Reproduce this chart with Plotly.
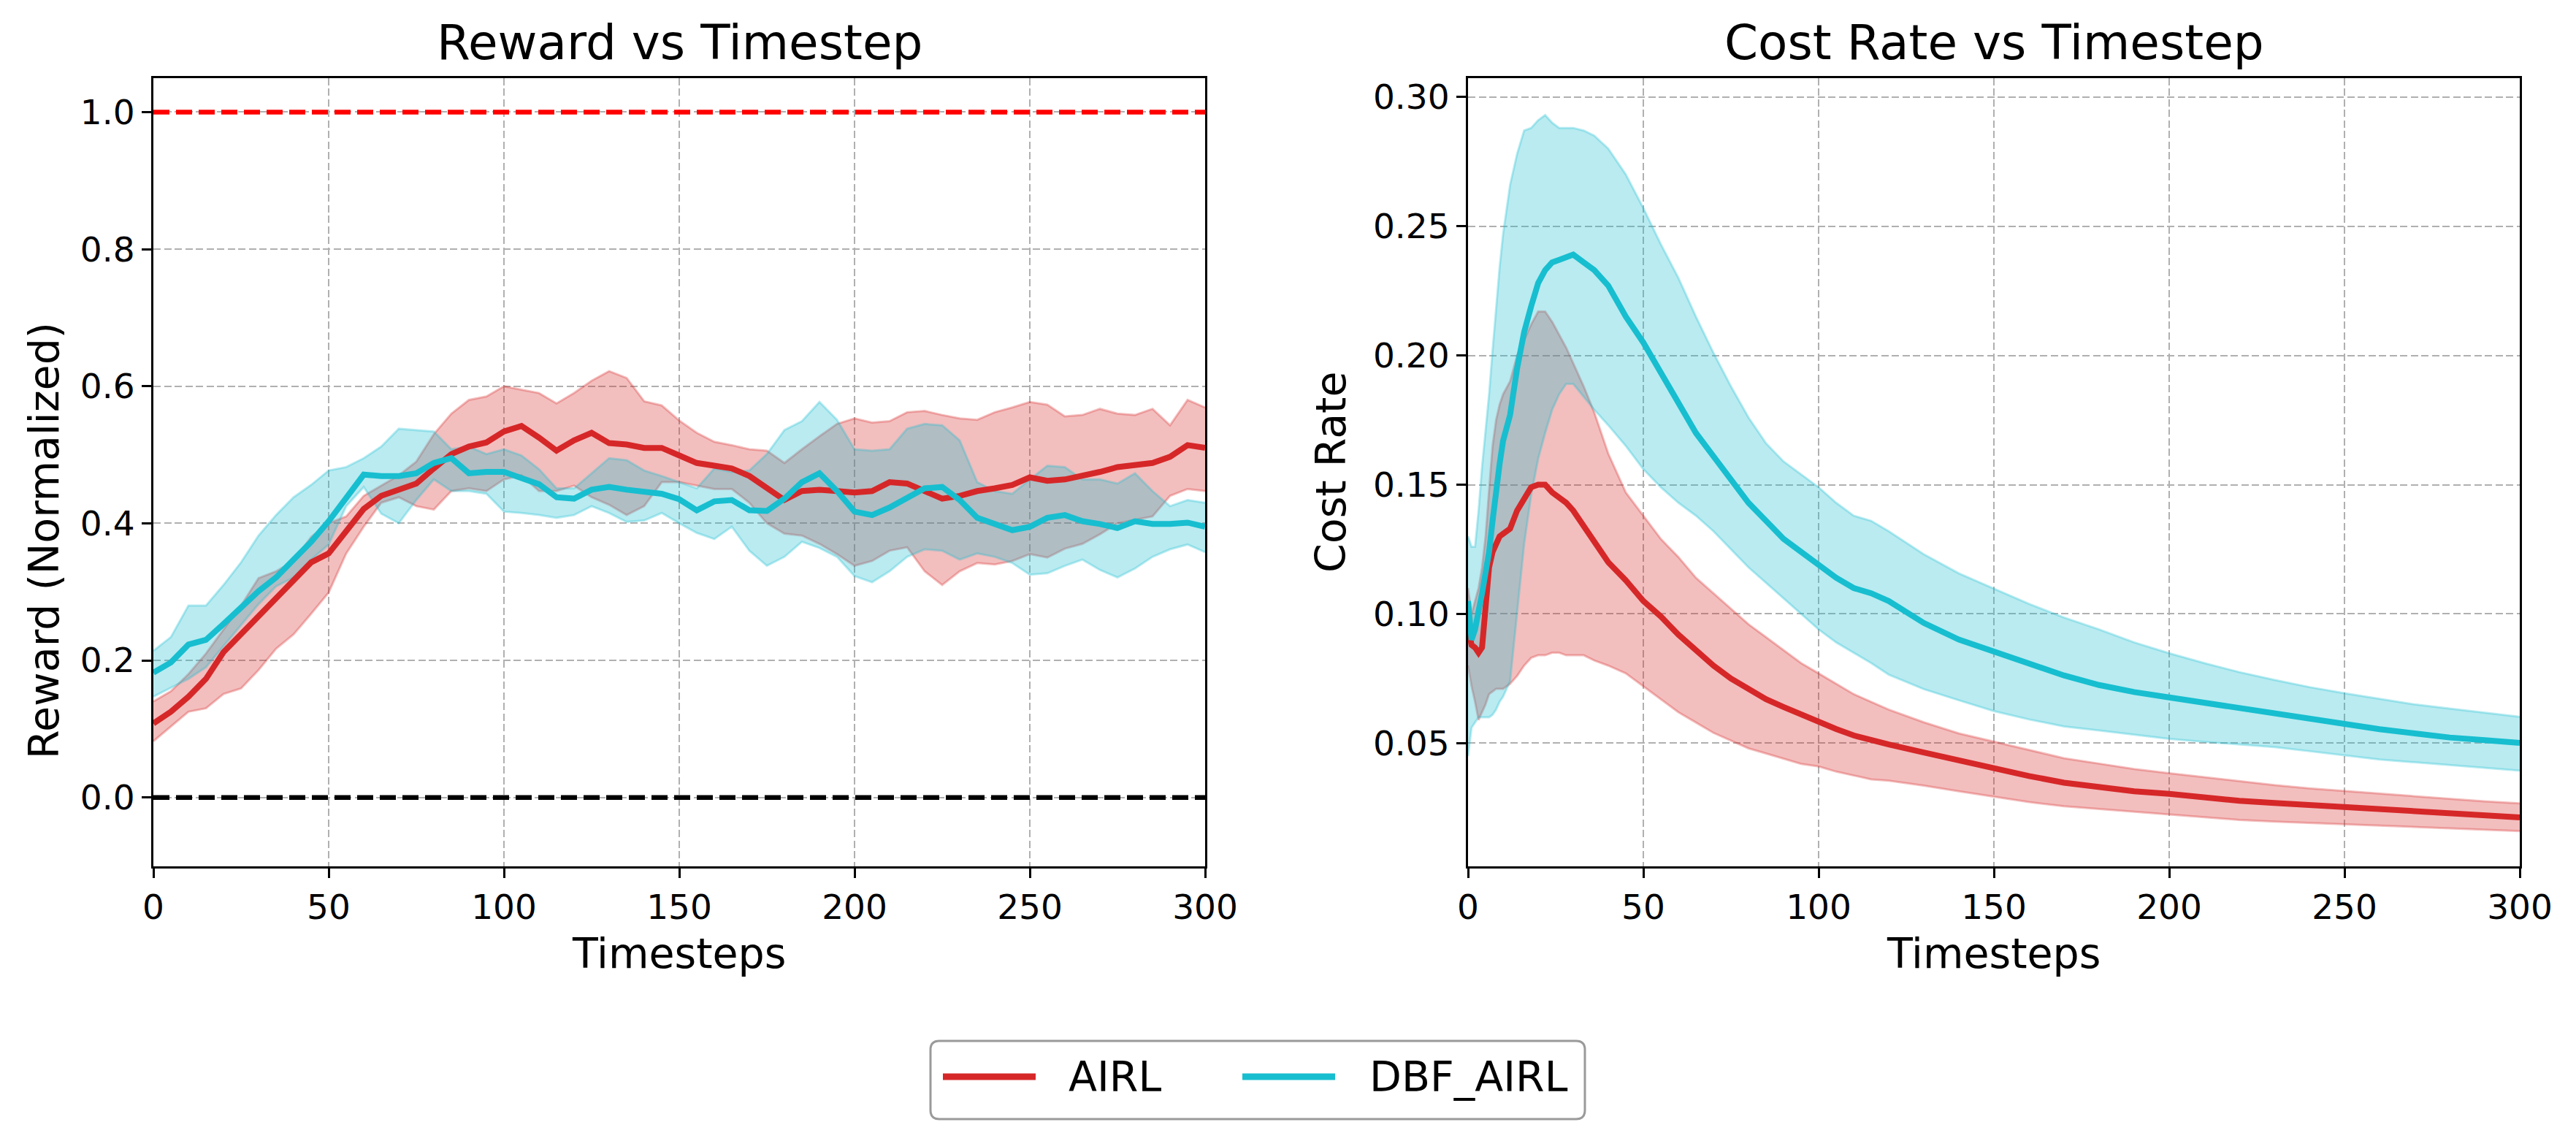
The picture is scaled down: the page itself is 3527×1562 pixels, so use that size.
import plotly.graph_objects as go

W, H = 3527, 1562

# ---------------- data: Reward vs Timestep ----------------
t_reward = list(range(0, 301, 5))

airl_reward_mean = [0.108, 0.125, 0.147, 0.173, 0.212, 0.238, 0.262, 0.288, 0.314, 0.343, 0.356,
                    0.390, 0.421, 0.440, 0.449, 0.458, 0.480, 0.501, 0.512, 0.518, 0.534,
                    0.542, 0.525, 0.506, 0.521, 0.532, 0.517, 0.515, 0.510, 0.510, 0.499,
                    0.488, 0.484, 0.480, 0.469, 0.451, 0.434, 0.447, 0.449, 0.447, 0.445,
                    0.447, 0.460, 0.458, 0.447, 0.436, 0.440, 0.447, 0.451, 0.456, 0.467,
                    0.462, 0.464, 0.469, 0.475, 0.482, 0.486, 0.488, 0.497, 0.514, 0.510]
airl_reward_upper = [0.140, 0.155, 0.180, 0.210, 0.245, 0.280, 0.320, 0.330, 0.345, 0.380, 0.400,
                     0.410, 0.440, 0.455, 0.470, 0.490, 0.530, 0.560, 0.580, 0.585, 0.600,
                     0.595, 0.590, 0.575, 0.590, 0.608, 0.622, 0.612, 0.578, 0.572, 0.550,
                     0.532, 0.519, 0.514, 0.508, 0.506, 0.488, 0.508, 0.527, 0.545, 0.553,
                     0.547, 0.549, 0.562, 0.564, 0.558, 0.553, 0.551, 0.562, 0.569, 0.577,
                     0.573, 0.556, 0.558, 0.567, 0.560, 0.558, 0.567, 0.543, 0.580, 0.569]
airl_reward_lower = [0.082, 0.103, 0.125, 0.130, 0.151, 0.159, 0.186, 0.217, 0.238, 0.268, 0.299,
                     0.356, 0.395, 0.430, 0.438, 0.425, 0.420, 0.447, 0.451, 0.447, 0.464,
                     0.470, 0.447, 0.447, 0.455, 0.438, 0.427, 0.412, 0.425, 0.460, 0.460,
                     0.455, 0.450, 0.450, 0.430, 0.400, 0.385, 0.382, 0.370, 0.355, 0.338,
                     0.345, 0.360, 0.365, 0.330, 0.310, 0.330, 0.342, 0.340, 0.345, 0.355,
                     0.350, 0.363, 0.370, 0.384, 0.400, 0.405, 0.410, 0.440, 0.450, 0.447]

dbf_reward_mean = [0.182, 0.197, 0.223, 0.230, 0.253, 0.277, 0.301, 0.321, 0.347, 0.373, 0.403,
                   0.436, 0.471, 0.469, 0.469, 0.473, 0.488, 0.495, 0.473, 0.475, 0.475,
                   0.466, 0.457, 0.438, 0.436, 0.449, 0.453, 0.449, 0.447, 0.443, 0.435,
                   0.419, 0.432, 0.434, 0.419, 0.418, 0.436, 0.460, 0.473, 0.447, 0.417,
                   0.412, 0.423, 0.438, 0.451, 0.453, 0.434, 0.408, 0.399, 0.390, 0.395,
                   0.408, 0.412, 0.403, 0.399, 0.393, 0.403, 0.399, 0.399, 0.401, 0.395]
dbf_reward_upper = [0.214, 0.234, 0.280, 0.280, 0.310, 0.343, 0.382, 0.412, 0.438, 0.456, 0.477,
                    0.482, 0.495, 0.512, 0.538, 0.536, 0.534, 0.508, 0.512, 0.501, 0.508,
                    0.499, 0.479, 0.451, 0.451, 0.473, 0.495, 0.492, 0.477, 0.469, 0.460,
                    0.451, 0.480, 0.475, 0.477, 0.501, 0.536, 0.549, 0.577, 0.551, 0.508,
                    0.506, 0.508, 0.538, 0.545, 0.543, 0.521, 0.460, 0.447, 0.443, 0.464,
                    0.484, 0.482, 0.464, 0.464, 0.458, 0.473, 0.447, 0.425, 0.434, 0.430]
dbf_reward_lower = [0.147, 0.160, 0.173, 0.190, 0.221, 0.251, 0.282, 0.308, 0.321, 0.347, 0.369,
                    0.425, 0.453, 0.414, 0.400, 0.434, 0.464, 0.447, 0.447, 0.443, 0.417,
                    0.415, 0.412, 0.408, 0.412, 0.425, 0.415, 0.402, 0.404, 0.415, 0.400,
                    0.386, 0.377, 0.395, 0.360, 0.338, 0.351, 0.373, 0.364, 0.351, 0.323,
                    0.314, 0.330, 0.351, 0.362, 0.360, 0.347, 0.356, 0.351, 0.342, 0.325,
                    0.327, 0.338, 0.347, 0.332, 0.321, 0.334, 0.351, 0.362, 0.369, 0.358]

reward_ref_levels = [1.0, 0.0]
reward_ref_colors = ["#ff0000", "#000000"]

# ---------------- data: Cost Rate vs Timestep ----------------
t_cost = [0, 1, 2, 3, 4, 5, 6, 7, 8, 9, 10, 12, 14, 16, 18, 20, 22, 24, 26, 28, 30, 33, 36,
          40, 45, 50, 55, 60, 65, 70, 75, 80, 85, 90, 95, 100, 105, 110, 115, 120,
          130, 140, 150, 160, 170, 180, 190, 200, 210, 220, 230, 240, 250, 260, 270, 280, 290, 300]

airl_cost_mean = [0.095, 0.088, 0.087, 0.085, 0.087, 0.104, 0.118, 0.124, 0.127, 0.130, 0.131,
                  0.133, 0.140, 0.144, 0.149, 0.150, 0.150, 0.147, 0.145, 0.143, 0.140, 0.134, 0.128,
                  0.120, 0.113, 0.105, 0.099, 0.092, 0.086, 0.080, 0.075, 0.071, 0.067, 0.064, 0.061,
                  0.058, 0.0555, 0.053, 0.051, 0.0495,
                  0.0464, 0.0432, 0.0400, 0.0373, 0.0347, 0.0330, 0.0314, 0.0304, 0.0290, 0.0277,
                  0.0269, 0.0261, 0.0253, 0.0245, 0.0237, 0.0229, 0.0221, 0.0213]
airl_cost_upper = [0.110, 0.100, 0.105, 0.110, 0.118, 0.130, 0.148, 0.165, 0.175, 0.181, 0.185,
                   0.190, 0.200, 0.206, 0.212, 0.217, 0.217, 0.213, 0.208, 0.203, 0.197, 0.188, 0.178,
                   0.162, 0.147, 0.138, 0.129, 0.122, 0.114, 0.108, 0.102, 0.096, 0.091, 0.086, 0.081,
                   0.077, 0.073, 0.069, 0.066, 0.063,
                   0.0581, 0.0538, 0.0506, 0.0474, 0.0442, 0.0421, 0.0400, 0.0384, 0.0368, 0.0352,
                   0.0338, 0.0325, 0.0315, 0.0304, 0.0293, 0.0283, 0.0275, 0.0267]
airl_cost_lower = [0.080, 0.072, 0.066, 0.059, 0.062, 0.065, 0.069, 0.070, 0.071, 0.071, 0.071,
                   0.073, 0.076, 0.080, 0.083, 0.084, 0.084, 0.085, 0.085, 0.084, 0.084, 0.084, 0.082,
                   0.080, 0.077, 0.072, 0.067, 0.062, 0.058, 0.054, 0.051, 0.048, 0.046, 0.044, 0.042,
                   0.041, 0.039, 0.0375, 0.036, 0.0355,
                   0.0336, 0.0314, 0.0293, 0.0272, 0.0256, 0.0245, 0.0235, 0.0224, 0.0213, 0.0203,
                   0.0197, 0.0192, 0.0186, 0.0181, 0.0176, 0.0171, 0.0165, 0.0160]

dbf_cost_mean = [0.105, 0.090, 0.094, 0.100, 0.108, 0.116, 0.124, 0.136, 0.149, 0.158, 0.167,
                 0.177, 0.195, 0.209, 0.219, 0.228, 0.233, 0.236, 0.237, 0.238, 0.239, 0.236, 0.233,
                 0.227, 0.215, 0.205, 0.193, 0.181, 0.170, 0.161, 0.152, 0.143, 0.136, 0.129, 0.124,
                 0.119, 0.114, 0.110, 0.108, 0.105,
                 0.0965, 0.0901, 0.0853, 0.0805, 0.0762, 0.0725, 0.0698, 0.0677, 0.0656, 0.0634,
                 0.0618, 0.0597, 0.0576, 0.0554, 0.0538, 0.0522, 0.0512, 0.0501]
dbf_cost_upper = [0.130, 0.126, 0.126, 0.140, 0.157, 0.170, 0.185, 0.202, 0.219, 0.234, 0.247,
                  0.266, 0.278, 0.287, 0.288, 0.291, 0.293, 0.290, 0.288, 0.288, 0.288, 0.287, 0.285,
                  0.280, 0.270, 0.257, 0.243, 0.230, 0.215, 0.201, 0.188, 0.176, 0.166, 0.159, 0.154,
                  0.149, 0.143, 0.138, 0.136, 0.132,
                  0.1231, 0.1157, 0.1098, 0.1039, 0.0986, 0.0940, 0.0890, 0.0848, 0.0810, 0.0775,
                  0.0745, 0.0717, 0.0693, 0.0672, 0.0650, 0.0634, 0.0618, 0.0602]
dbf_cost_lower = [0.045, 0.056, 0.058, 0.060, 0.060, 0.060, 0.060, 0.061, 0.063, 0.066, 0.068,
                  0.074, 0.100, 0.127, 0.146, 0.160, 0.170, 0.179, 0.185, 0.189, 0.189, 0.184, 0.179,
                  0.173, 0.165, 0.156, 0.149, 0.143, 0.138, 0.132, 0.125, 0.118, 0.112, 0.106, 0.100,
                  0.094, 0.089, 0.085, 0.081, 0.0765,
                  0.0709, 0.0666, 0.0624, 0.0592, 0.0565, 0.0549, 0.0533, 0.0517, 0.0505, 0.0496,
                  0.0485, 0.0469, 0.0453, 0.0437, 0.0426, 0.0416, 0.0405, 0.0394]

# ---------------- tick labels / text ----------------
x_ticks = [0, 50, 100, 150, 200, 250, 300]
reward_ticks = [0.0, 0.2, 0.4, 0.6, 0.8, 1.0]
cost_ticks = [0.05, 0.10, 0.15, 0.20, 0.25, 0.30]
series_names = ["AIRL", "DBF_AIRL"]

# ---------------- styling ----------------
RED = "#d62728"
CYAN = "#17becf"
RED_A = "rgba(214,39,40,0.3)"
CYAN_A = "rgba(23,190,207,0.3)"
FONT = "DejaVu Sans"
LINE_W = 8
EDGE_W = 3


def px(x):
    return x / W


def py(y):
    return 1 - y / H


fig = go.Figure()


def add_band(t, upper, lower, color_a, xa, ya):
    fig.add_trace(go.Scatter(x=t, y=upper, mode="lines", xaxis=xa, yaxis=ya,
                             line=dict(color=color_a, width=EDGE_W), showlegend=False,
                             hoverinfo="skip"))
    fig.add_trace(go.Scatter(x=t, y=lower, mode="lines", xaxis=xa, yaxis=ya,
                             fill="tonexty", fillcolor=color_a,
                             line=dict(color=color_a, width=EDGE_W), showlegend=False,
                             hoverinfo="skip"))


def add_mean(t, y, color, name, xa, ya):
    fig.add_trace(go.Scatter(x=t, y=y, mode="lines", name=name, xaxis=xa, yaxis=ya,
                             line=dict(color=color, width=LINE_W), showlegend=False))


# left subplot
add_band(t_reward, airl_reward_upper, airl_reward_lower, RED_A, "x", "y")
add_band(t_reward, dbf_reward_upper, dbf_reward_lower, CYAN_A, "x", "y")
add_mean(t_reward, airl_reward_mean, RED, series_names[0], "x", "y")
add_mean(t_reward, dbf_reward_mean, CYAN, series_names[1], "x", "y")

# right subplot
add_band(t_cost, airl_cost_upper, airl_cost_lower, RED_A, "x2", "y2")
add_band(t_cost, dbf_cost_upper, dbf_cost_lower, CYAN_A, "x2", "y2")
add_mean(t_cost, airl_cost_mean, RED, series_names[0], "x2", "y2")
add_mean(t_cost, dbf_cost_mean, CYAN, series_names[1], "x2", "y2")

shapes = []
for lvl, col in zip(reward_ref_levels, reward_ref_colors):
    shapes.append(dict(type="line", xref="x domain", yref="y", x0=0, x1=1, y0=lvl, y1=lvl,
                       line=dict(color=col, width=6.5, dash="22px,9px"), layer="above"))

axis_common = dict(
    showline=True, linewidth=3, linecolor="black", mirror=True,
    ticks="outside", ticklen=13, tickwidth=3, tickcolor="black",
    showgrid=True, gridcolor="#b0b0b0", gridwidth=2, griddash="10px,4.5px",
    zeroline=False, automargin=False,
    tickfont=dict(family=FONT, size=47, color="black"),
)

Y0, Y1 = py(1185.5), py(106.5)
fig.update_layout(
    width=W, height=H,
    margin=dict(l=0, r=0, t=0, b=0, autoexpand=False),
    paper_bgcolor="white", plot_bgcolor="white",
    showlegend=False,
    font=dict(family=FONT, color="black"),
    xaxis=dict(domain=[px(210), px(1650)], range=[0, 300], tickvals=x_ticks, anchor="y",
               **axis_common),
    yaxis=dict(domain=[Y0, Y1], range=[-0.1, 1.05], tickvals=reward_ticks, tickformat=".1f",
               anchor="x", **axis_common),
    xaxis2=dict(domain=[px(2010), px(3450)], range=[0, 300], tickvals=x_ticks, anchor="y2",
                **axis_common),
    yaxis2=dict(domain=[Y0, Y1], range=[0.0025, 0.3074], tickvals=cost_ticks, tickformat=".2f",
                anchor="x2", **axis_common),
)

annotations = [
    dict(text="Reward vs Timestep", x=px(930), y=py(58), xref="paper", yref="paper",
         xanchor="center", yanchor="middle", showarrow=False, font=dict(size=66)),
    dict(text="Cost Rate vs Timestep", x=px(2730), y=py(58), xref="paper", yref="paper",
         xanchor="center", yanchor="middle", showarrow=False, font=dict(size=66)),
    dict(text="Timesteps", x=px(930), y=py(1305), xref="paper", yref="paper",
         xanchor="center", yanchor="middle", showarrow=False, font=dict(size=57)),
    dict(text="Timesteps", x=px(2730), y=py(1305), xref="paper", yref="paper",
         xanchor="center", yanchor="middle", showarrow=False, font=dict(size=57)),
    dict(text="Reward (Normalized)", x=px(60), y=py(740), xref="paper", yref="paper",
         xanchor="center", yanchor="middle", textangle=-90, showarrow=False, font=dict(size=57)),
    dict(text="Cost Rate", x=px(1822), y=py(646), xref="paper", yref="paper",
         xanchor="center", yanchor="middle", textangle=-90, showarrow=False, font=dict(size=57)),
]

# manual legend (rounded box, long line samples)
bx0, bx1, by0, by1, r = 1274, 2170, 1425, 1532, 12
path = (f"M {px(bx0 + r)},{py(by0)} L {px(bx1 - r)},{py(by0)} "
        f"Q {px(bx1)},{py(by0)} {px(bx1)},{py(by0 + r)} "
        f"L {px(bx1)},{py(by1 - r)} Q {px(bx1)},{py(by1)} {px(bx1 - r)},{py(by1)} "
        f"L {px(bx0 + r)},{py(by1)} Q {px(bx0)},{py(by1)} {px(bx0)},{py(by1 - r)} "
        f"L {px(bx0)},{py(by0 + r)} Q {px(bx0)},{py(by0)} {px(bx0 + r)},{py(by0)} Z")
shapes.append(dict(type="path", path=path, xref="paper", yref="paper",
                   line=dict(color="#9a9a9a", width=3), fillcolor="white", layer="above"))
legend_items = [(series_names[0], RED, 1291, 1418, 1461), (series_names[1], CYAN, 1701, 1828, 1873)]
for name, col, lx0, lx1, tx in legend_items:
    shapes.append(dict(type="line", xref="paper", yref="paper", x0=px(lx0), x1=px(lx1),
                       y0=py(1474), y1=py(1474), line=dict(color=col, width=9), layer="above"))
    annotations.append(dict(text=name, x=px(tx), y=py(1474), xref="paper", yref="paper",
                            xanchor="left", yanchor="middle", showarrow=False,
                            font=dict(size=57)))

fig.update_layout(shapes=shapes, annotations=annotations)
fig.write_html("out.html")
